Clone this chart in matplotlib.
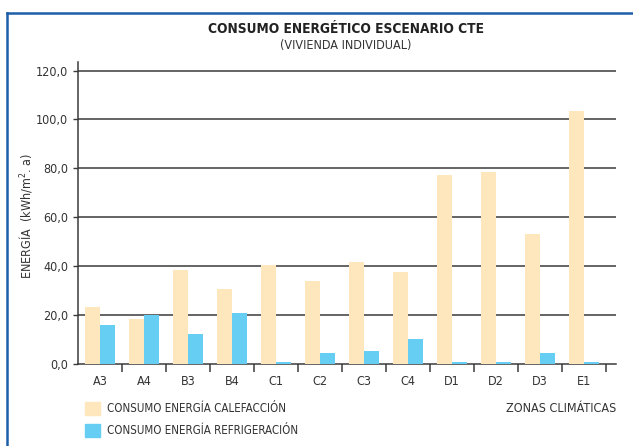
import matplotlib
matplotlib.use("Agg")
import matplotlib.pyplot as plt
import numpy as np
from matplotlib.patches import Rectangle
from matplotlib.lines import Line2D

plt.rcParams['font.family'] = ['DejaVu Sans']
plt.rcParams['font.stretch'] = 'condensed'

# datos
zonas = ['A3', 'A4', 'B3', 'B4', 'C1', 'C2', 'C3', 'C4', 'D1', 'D2', 'D3', 'E1']
calefaccion = [23.4, 18.4, 38.4, 30.6, 40.4, 33.9, 41.8, 37.8, 77.3, 78.6, 53.3, 103.5]
refrigeracion = [15.9, 20.1, 12.2, 20.8, 0.8, 4.6, 5.5, 10.4, 0.8, 0.8, 4.3, 0.8]
yticks = [0, 20, 40, 60, 80, 100, 120]

c_calef = '#FEE6BD'
c_refri = '#66CDF3'
c_txt = '#333333'
c_grid = '#3a3a3a'

fig = plt.figure(figsize=(6.33, 4.46), dpi=100)
W, H = 633, 446

# marco azul (solo arriba e izquierda)
fig.add_artist(Line2D([6.5 / W, 1], [1 - 12.5 / H, 1 - 12.5 / H],
                      transform=fig.transFigure, color='#1d5ea8', lw=1.8))
fig.add_artist(Line2D([6.5 / W, 6.5 / W], [0, 1 - 12.5 / H],
                      transform=fig.transFigure, color='#1d5ea8', lw=1.8))

ax = fig.add_axes([78 / W, 1 - 364 / H, 538 / W, 302 / H])

x = np.arange(len(zonas))
bw = 0.34
ax.bar(x - bw / 2, calefaccion, bw, color=c_calef, zorder=3)
ax.bar(x + bw / 2, refrigeracion, bw, color=c_refri, zorder=3)

for v in yticks[1:]:
    ax.axhline(v, color=c_grid, lw=1.1, zorder=1)

ax.set_xlim(-0.5, 11.73)
ax.set_ylim(0, 123.5)

ax.spines['right'].set_visible(False)
ax.spines['top'].set_visible(False)
ax.spines['left'].set_color(c_grid)
ax.spines['left'].set_linewidth(1.1)
ax.spines['bottom'].set_color(c_grid)
ax.spines['bottom'].set_linewidth(1.1)
ax.spines['bottom'].set_zorder(2)

ax.set_yticks(yticks)
ax.set_yticklabels(['%d,0' % v for v in yticks])
ax.tick_params(axis='y', length=3.5, width=1, color=c_grid, pad=3.5,
               labelsize=9, labelcolor=c_txt)

ax.set_xticks(x)
ax.set_xticklabels(zonas)
ax.set_xticks(x + 0.5, minor=True)
ax.tick_params(axis='x', which='major', length=0, pad=8,
               labelsize=9, labelcolor=c_txt)
ax.tick_params(axis='x', which='minor', length=5.5, width=1.1, color=c_grid)

ax.set_ylabel('ENERGÍA  (kWh/m$^{2}$. a)', fontsize=9, color=c_txt)
ax.yaxis.label.set_va('center')
ax.yaxis.set_label_coords(-53 / 538, 0.49)

fig.text(346 / W, 1 - 29 / H, 'CONSUMO ENERGÉTICO ESCENARIO CTE',
         ha='center', va='center', fontsize=9.8, fontweight='bold',
         color='#222222')
fig.text(346 / W, 1 - 46 / H, '(VIVIENDA INDIVIDUAL)', ha='center',
         va='center', fontsize=9, color=c_txt)

# leyenda
for yy, col, lab in [(408.5, c_calef, 'CONSUMO ENERGÍA CALEFACCIÓN'),
                     (430.5, c_refri, 'CONSUMO ENERGÍA REFRIGERACIÓN')]:
    fig.add_artist(Rectangle((85 / W, 1 - (yy + 6.5) / H), 15 / W, 13 / H,
                             transform=fig.transFigure, color=col))
    fig.text(107 / W, 1 - yy / H, lab, ha='left', va='center',
             fontsize=8.3, color=c_txt)

fig.text(616 / W, 1 - 408 / H, 'ZONAS CLIMÁTICAS', ha='right',
         va='center', fontsize=9, color=c_txt)

fig.savefig('out.png', dpi=100)
plt.close('all')
